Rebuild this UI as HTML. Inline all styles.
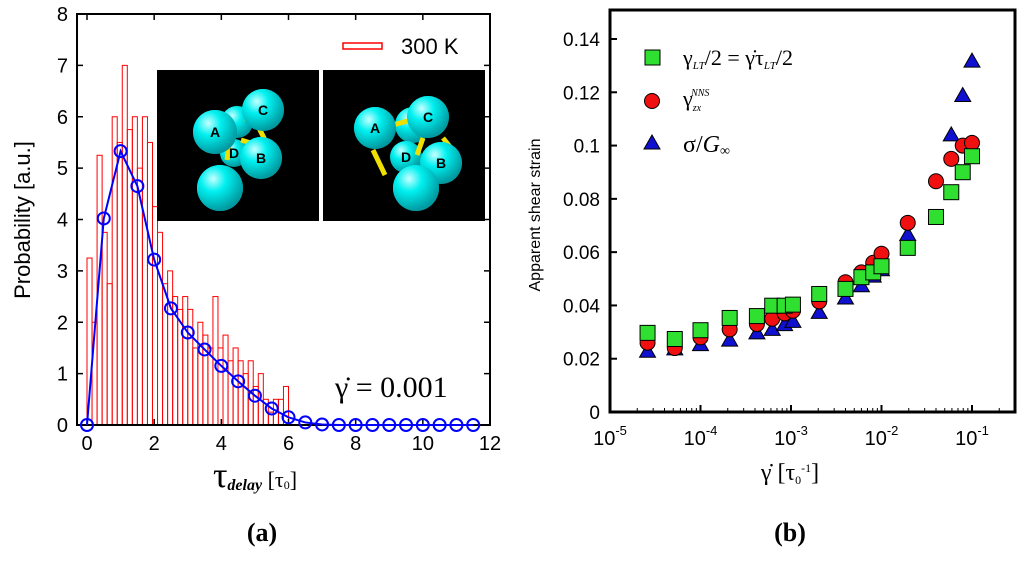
<!DOCTYPE html>
<html><head><meta charset="utf-8"><style>
body{margin:0;background:#fff;width:1024px;height:556px;overflow:hidden}
svg{font-family:"Liberation Sans",sans-serif}
.serif{font-family:"Liberation Serif",serif}
</style></head><body>
<svg id="s" width="1024" height="556" viewBox="0 0 1024 556">
<defs>
<radialGradient id="ball" cx="0.35" cy="0.3" r="0.7"><stop offset="0" stop-color="#c8ffff"/><stop offset="0.4" stop-color="#00f0f0"/><stop offset="1" stop-color="#009aa0"/></radialGradient>
</defs>
<g id="left"></g>
<g id="right"></g>
</svg>
<script>
// ---------- Panel (a) data ----------
const binWidth = 0.15;
const histValues = [3.25,2.0,5.25,3.75,2.75,6.0,5.5,7.0,5.75,6.0,5.0,6.0,5.5,4.25,3.75,2.75,3.0,2.5,2.25,2.5,2.25,1.5,2.0,1.75,1.5,2.5,1.5,1.75,1.25,1.5,1.25,1.0,1.25,0.75,1.0,0.5,0.25,0.5,0.5,0.75];
const fitX = [0,0.5,1,1.5,2,2.5,3,3.5,4,4.5,5,5.5,6,6.5,7,7.5,8,8.5,9,9.5,10,10.5,11,11.5];
const fitY = [0,4.02,5.33,4.65,3.22,2.27,1.8,1.47,1.15,0.85,0.57,0.32,0.15,0.05,0.01,0,0,0,0,0,0,0,0,0];
const xTicksA = [0,2,4,6,8,10,12];
const yTicksA = [0,1,2,3,4,5,6,7,8];
// ---------- Panel (b) data ----------
const rateX = [2.6e-5,5.2e-5,1e-4,2.1e-4,4.2e-4,6.2e-4,8.5e-4,1.05e-3,2.05e-3,4e-3,6e-3,8.1e-3,1e-2,1.95e-2,4e-2,5.9e-2,7.9e-2,1e-1];
const squareY = [0.0297,0.0274,0.0307,0.0353,0.036,0.0399,0.0399,0.0403,0.0443,0.0462,0.0506,0.0524,0.0547,0.0616,0.0732,0.0825,0.09,0.096];
const circleY = [0.026,0.024,0.028,0.031,0.033,0.035,0.037,0.038,0.0415,0.0487,0.0524,0.056,0.0594,0.071,0.0866,0.095,0.10,0.101];
const triX = [2.6e-5,5.2e-5,1e-4,2.1e-4,4.2e-4,6.2e-4,8.5e-4,1.05e-3,2.05e-3,4e-3,6e-3,8.1e-3,1e-2,1.95e-2,5.9e-2,7.9e-2,1e-1];
const triY = [0.0228,0.0237,0.0253,0.027,0.0297,0.031,0.0328,0.034,0.0374,0.0428,0.0474,0.051,0.0534,0.0666,0.104,0.1188,0.1317];
const yTicksB = [0,0.02,0.04,0.06,0.08,0.1,0.12,0.14];
const yTickLabelsB = ["0","0.02","0.04","0.06","0.08","0.1","0.12","0.14"];
const xDecadesB = [-5,-4,-3,-2,-1];

const NS="http://www.w3.org/2000/svg";
function mk(parent,tag,attrs,text){const e=document.createElementNS(NS,tag);for(const k in attrs)e.setAttribute(k,attrs[k]);if(text!==undefined)e.textContent=text;parent.appendChild(e);return e;}

// ---------- Panel (a) ----------
const L=document.getElementById('left');
const ax=v=>87+v*(490-87)/12, ay=v=>425-v*(425-14)/8;
histValues.forEach((h,i)=>{
  const r=mk(L,'rect',{x:ax(i*binWidth),y:ay(h),width:ax(binWidth)-ax(0),height:ay(0)-ay(h),fill:'none',stroke:'#f00','stroke-width':1});
  
  
});
// insets
function inset(x0,balls,bonds,name){
  const g=mk(L,'g',{});
  
  
  mk(g,'rect',{x:x0,y:70,width:162,height:151,fill:'#000'});
  balls.forEach(b=>mk(g,'circle',{cx:x0+b[0],cy:b[1],r:b[2],fill:'url(#ball)'}));
  bonds.forEach(b=>mk(g,'line',{x1:x0+b[0],y1:b[1],x2:x0+b[2],y2:b[3],stroke:'#f0e000','stroke-width':5}));
  balls.forEach(b=>{if(b[4])mk(g,'circle',{cx:x0+b[0],cy:b[1],r:b[2],fill:'url(#ball)'});if(b[3])mk(g,'text',{x:x0+b[0],y:b[1]+5,'text-anchor':'middle','font-size':14,'font-weight':'bold',fill:'#000'},b[3]);});
}
inset(157,[[80,122,16,''],[58,132,22,'A',1],[106,110,21,'C',1],[104,158,21,'B',1],[77,153,14,'D'],[63,188,23,'',1]],[[70,160,75,125],[84,140,100,145],[88,118,105,125],[90,173,100,165],[102,128,108,140]],'inset-left');
inset(323,[[90,125,18,''],[52,128,21,'A',1],[105,117,21,'C',1],[118,163,21,'B',1],[83,157,16,'D'],[93,188,23,'',1]],[[70,125,88,120],[50,150,62,175],[102,168,100,182],[120,138,128,148],[100,138,94,155]],'inset-right');
// box
mk(L,'rect',{x:77,y:14,width:413,height:411,fill:'none',stroke:'#000','stroke-width':2});
xTicksA.forEach(t=>{mk(L,'line',{x1:ax(t),y1:425,x2:ax(t),y2:419,stroke:'#000','stroke-width':1.5});mk(L,'line',{x1:ax(t),y1:14,x2:ax(t),y2:20,stroke:'#000','stroke-width':1.5});
  const tx=mk(L,'text',{x:ax(t),y:450,'text-anchor':'middle','font-size':20},String(t));});
yTicksA.forEach(t=>{mk(L,'line',{x1:77,y1:ay(t),x2:83,y2:ay(t),stroke:'#000','stroke-width':1.5});mk(L,'line',{x1:490,y1:ay(t),x2:484,y2:ay(t),stroke:'#000','stroke-width':1.5});
  const tx=mk(L,'text',{x:68,y:ay(t)+7,'text-anchor':'end','font-size':20},String(t));});
// fit line
const pl=mk(L,'polyline',{points:fitX.map((x,i)=>ax(x)+','+ay(fitY[i])).join(' '),fill:'none',stroke:'#00f','stroke-width':2});

fitX.forEach((x,i)=>{const c=mk(L,'circle',{cx:ax(x),cy:ay(fitY[i]),r:6,fill:'none',stroke:'#00f','stroke-width':2});});
// legend
const lg=mk(L,'g',{});
mk(lg,'rect',{x:343,y:43,width:39,height:6,fill:'none',stroke:'#f00','stroke-width':1.5});
mk(lg,'text',{x:401,y:54,'font-size':22},'300 K');
const rt=mk(L,'text',{x:335,y:397,'font-size':30,class:'serif'},'γ̇ = 0.001');
const yl=mk(L,'text',{x:30,y:220,'font-size':22,'text-anchor':'middle',transform:'rotate(-90 30 220)'},'Probability [a.u.]');
const xl=mk(L,'text',{x:255,y:487,'text-anchor':'middle',class:'serif'});
xl.innerHTML='<tspan font-size="36">τ</tspan><tspan font-size="16" font-weight="bold" font-style="italic" dy="3">delay</tspan><tspan font-size="22" dy="-3">  [τ</tspan><tspan font-size="12" dy="2">0</tspan><tspan font-size="22" dy="-2">]</tspan>';
const pa=mk(L,'text',{x:262,y:541,'text-anchor':'middle','font-size':26,'font-weight':'bold',class:'serif'},'(a)');

// ---------- Panel (b) ----------
const R=document.getElementById('right');
const bx=v=>610+(Math.log10(v)+5)*90.5, by=v=>412-v*(412-39)/0.14;
mk(R,'rect',{x:610,y:10,width:405,height:402,fill:'none',stroke:'#000','stroke-width':3});
xDecadesB.forEach(d=>{const x=bx(Math.pow(10,d));mk(R,'line',{x1:x,y1:412,x2:x,y2:405,stroke:'#000','stroke-width':2});
  for(let k=2;k<10&&d<0;k++){const xm=bx(k*Math.pow(10,d));mk(R,'line',{x1:xm,y1:412,x2:xm,y2:408,stroke:'#000','stroke-width':1});}
  const t=mk(R,'text',{x:x,y:445,'text-anchor':'middle','font-size':20});t.innerHTML='10<tspan font-size="13" dy="-10">'+d+'</tspan>';});
yTicksB.forEach((v,i)=>{mk(R,'line',{x1:610,y1:by(v),x2:617,y2:by(v),stroke:'#000','stroke-width':2});
  const t=mk(R,'text',{x:600,y:by(v)+7,'text-anchor':'end','font-size':19},yTickLabelsB[i]);});
triX.forEach((x,i)=>{const cx=bx(x),cy=by(triY[i]);const p=mk(R,'polygon',{points:`${cx},${cy-8} ${cx-8},${cy+6} ${cx+8},${cy+6}`,fill:'#1010d0',stroke:'#000','stroke-width':1});});
rateX.forEach((x,i)=>{const c=mk(R,'circle',{cx:bx(x),cy:by(circleY[i]),r:7.5,fill:'#f01010',stroke:'#000','stroke-width':1});});
rateX.forEach((x,i)=>{const r=mk(R,'rect',{x:bx(x)-7.5,y:by(squareY[i])-7.5,width:15,height:15,fill:'#30e030',stroke:'#000','stroke-width':1});});
// legend
const l1=mk(R,'g',{});
mk(l1,'rect',{x:645,y:50,width:15,height:15,fill:'#30e030',stroke:'#000'});
const t1=mk(l1,'text',{x:683,y:65,'font-size':22,class:'serif'});t1.innerHTML='γ<tspan font-size="11" font-style="italic" dy="4">LT</tspan><tspan dy="-4">/2 = γ̇τ</tspan><tspan font-size="11" font-style="italic" dy="4">LT</tspan><tspan dy="-4">/2</tspan>';
const l2=mk(R,'g',{});
mk(l2,'circle',{cx:652,cy:101,r:7.5,fill:'#f01010',stroke:'#000'});
const t2=mk(l2,'text',{x:683,y:106,'font-size':22,class:'serif'});t2.innerHTML='γ<tspan font-size="10" font-style="italic" dy="5">zx</tspan><tspan font-size="10" font-style="italic" dx="-10" dy="-15">NNS</tspan>';
const l3=mk(R,'g',{});
mk(l3,'polygon',{points:'652,135 644,149 660,149',fill:'#1010d0',stroke:'#000'});
const t3=mk(l3,'text',{x:683,y:152,'font-size':24,class:'serif'});t3.innerHTML='σ/<tspan font-style="italic">G</tspan><tspan font-size="14" dy="3">∞</tspan>';
const ylb=mk(R,'text',{x:540,y:215,'font-size':16,'text-anchor':'middle',transform:'rotate(-90 540 215)'},'Apparent shear strain');
const xlb=mk(R,'text',{x:790,y:480,'text-anchor':'middle','font-size':24,class:'serif'});xlb.innerHTML='γ̇  [τ<tspan font-size="12" dy="4">0</tspan><tspan font-size="12" dy="-12">-1</tspan><tspan dy="8">]</tspan>';
const pb=mk(R,'text',{x:790,y:541,'text-anchor':'middle','font-size':26,'font-weight':'bold',class:'serif'},'(b)');
</script>
</body></html>
